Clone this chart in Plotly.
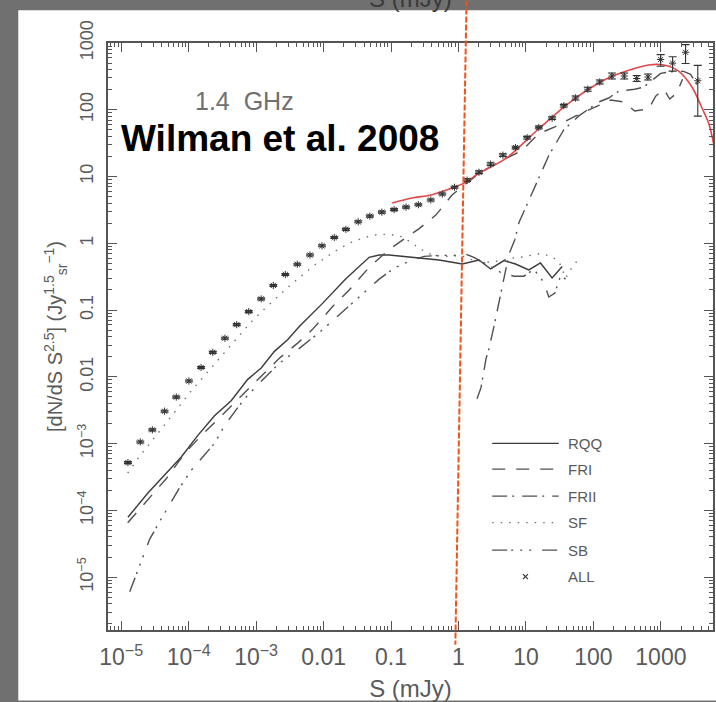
import plotly.graph_objects as go

# ---------------------------------------------------------------
# Euclidean-normalised 1.4 GHz source counts, S in mJy,
# N = dN/dS S^2.5 in Jy^1.5 sr^-1
# ---------------------------------------------------------------

# total counts (asterisks) with error bars
S_all = [1.26e-5, 1.92e-5, 2.90e-5, 4.40e-5, 6.56e-5, 1.01e-4, 1.53e-4, 2.28e-4,
         3.45e-4, 5.16e-4, 7.78e-4, 1.19e-3, 1.80e-3, 2.71e-3, 4.08e-3, 6.30e-3,
         9.46e-3, 1.44e-2, 2.14e-2, 3.26e-2, 4.85e-2, 7.31e-2, 0.111, 0.167,
         0.254, 0.388, 0.575, 0.873, 1.34, 2.01, 2.99, 4.55,
         7.01, 10.4, 15.5, 24.4, 36.4, 54.2, 82.4, 124,
         188, 286, 438, 643, 991, 1490, 2320, 3520]
N_all = [5.20e-4, 1.06e-3, 1.61e-3, 3.06e-3, 4.98e-3, 8.67e-3, 1.38e-2, 2.33e-2,
         3.79e-2, 6.05e-2, 9.50e-2, 0.147, 0.234, 0.341, 0.485, 0.667,
         0.918, 1.22, 1.62, 2.10, 2.55, 2.93, 3.20, 3.48,
         3.79, 4.46, 5.47, 6.90, 8.81, 11.6, 15.4, 20.9,
         27.2, 38.2, 54.3, 74.8, 115, 150, 203, 261,
         320, 320, 294, 309, 566, 499, 726, 272]
err_up_dex = [0.015] * 28 + [0.02] * 9 + [0.03] * 3 + [0.045] * 4 + [0.073, 0.095, 0.114, 0.230]
err_dn_dex = [0.015] * 28 + [0.02] * 9 + [0.03] * 3 + [0.045] * 4 + [0.100, 0.119, 0.168, 0.530]

# model fit through the total counts
S_fit = [0.104, 0.205, 0.405, 0.802, 1.29, 2.01, 5.04, 15.5, 47.8, 152, 301,
         658, 1100, 1830, 2840, 4000, 5080, 6030]
N_fit = [4.02, 4.77, 5.34, 6.71, 8.24, 11.2, 18.7, 52.0, 136, 286, 376,
         469, 469, 380, 225, 110, 63.7, 31.1]

# radio-quiet quasars
S_rqq = [1.26e-5, 1.77e-5, 2.49e-5, 4.40e-5, 7.78e-5, 1.37e-4, 2.42e-4, 4.27e-4,
         7.52e-4, 1.19e-3, 1.87e-3, 2.93e-3, 4.37e-3, 9.57e-3, 2.14e-2, 4.74e-2,
         6.67e-2, 9.38e-2, 0.233, 0.515, 1.14, 2.01, 2.99, 4.71, 7.01, 11.0,
         16.4, 24.4, 34.4]
N_rqq = [7.91e-5, 1.22e-4, 1.82e-4, 3.39e-4, 6.32e-4, 1.33e-3, 2.62e-3, 4.38e-3,
         9.18e-3, 1.36e-2, 2.41e-2, 3.59e-2, 5.66e-2, 0.125, 0.294, 0.617,
         0.667, 0.667, 0.617, 0.562, 0.490, 0.562, 0.413, 0.551, 0.490, 0.399,
         0.507, 0.304, 0.449]

# FRI radio galaxies
S_fri = [1.25e-5, 1.69e-5, 2.38e-5, 4.71e-5, 8.69e-5, 1.55e-4, 3.07e-4, 6.71e-4,
         1.20e-3, 2.21e-3, 4.08e-3, 6.81e-3, 1.35e-2, 2.40e-2, 4.74e-2, 9.38e-2,
         0.167, 0.261, 0.465, 0.802, 1.21, 2.23, 4.40, 8.69, 15.5, 26.8, 54.7,
         79.6, 120, 180, 281, 408, 658, 836, 1100, 1350, 1710, 2090]
N_fri = [6.53e-5, 9.18e-5, 1.36e-4, 3.03e-4, 7.11e-4, 1.33e-3, 2.62e-3, 5.75e-3,
         1.03e-2, 1.90e-2, 3.17e-2, 5.10e-2, 0.112, 0.200, 0.438, 0.809,
         1.22, 1.66, 2.67, 5.28, 7.43, 12.0, 17.4, 24.5, 43.8, 55.6, 80.9,
         95.9, 114, 140, 131, 95.9, 103, 160, 203, 145, 177, 286]

# FRII radio galaxies
S_frii = [1.88, 2.15, 2.55, 2.83, 3.35, 3.97, 4.40, 5.59, 6.85, 7.85, 10.3, 14.0,
          21.8, 36.4, 60.7, 120, 168, 237, 408, 555, 753, 990, 1540, 2170, 2750, 3610]
N_frii = [4.69e-3, 6.83e-3, 1.84e-2, 2.67e-2, 5.66e-2, 0.133, 0.207, 0.682, 1.14,
          2.03, 3.76, 7.43, 20.7, 50.2, 80.9, 131, 150, 190, 203, 218, 276, 351,
          376, 376, 339, 218]

# star-forming galaxies
S_sf = [1.25e-5, 1.88e-5, 2.82e-5, 4.40e-5, 6.62e-5, 1.03e-4, 1.55e-4, 2.42e-4,
        3.64e-4, 5.66e-4, 8.51e-4, 1.33e-3, 2.07e-3, 3.11e-3, 4.84e-3, 7.28e-3,
        1.14e-2, 1.71e-2, 2.57e-2, 4.00e-2, 6.22e-2, 9.38e-2, 0.141, 0.198,
        0.279, 0.392, 0.551, 0.774, 1.09, 1.53, 2.15, 3.03, 4.26, 5.98, 8.41,
        11.8, 16.6, 23.3, 30.7, 38.9, 46.1, 56.6]
N_sf = [3.63e-4, 6.49e-4, 1.08e-3, 1.87e-3, 3.22e-3, 5.75e-3, 9.27e-3, 1.55e-2,
        2.49e-2, 4.16e-2, 6.71e-2, 0.104, 0.157, 0.229, 0.333, 0.469,
        0.637, 0.838, 1.03, 1.22, 1.35, 1.37, 1.26, 1.03, 0.809, 0.682,
        0.637, 0.637, 0.659, 0.575, 0.537, 0.520, 0.556, 0.596, 0.617, 0.659,
        0.706, 0.637, 0.537, 0.301, 0.409, 0.537]

# starburst galaxies
S_sb = [1.34e-5, 1.88e-5, 2.64e-5, 3.72e-5, 5.21e-5, 7.33e-5, 1.10e-4, 1.72e-4,
        2.42e-4, 3.40e-4, 4.78e-4, 6.71e-4, 1.20e-3, 2.21e-3, 4.37e-3, 8.63e-3,
        1.71e-2, 3.37e-2, 6.67e-2, 0.111, 0.185, 0.309, 0.515, 0.867, 1.21, 1.69,
        2.83, 4.40, 6.61, 9.31, 13.1, 18.3, 21.8, 26.8, 32.8, 40.3]
N_sb = [6.05e-6, 1.47e-5, 3.69e-5, 6.82e-5, 1.22e-4, 2.18e-4, 4.02e-4, 6.71e-4,
        1.01e-3, 1.87e-3, 2.91e-3, 4.69e-3, 8.67e-3, 1.60e-2, 2.67e-2, 4.61e-2,
        8.51e-2, 0.157, 0.291, 0.424, 0.537, 0.637, 0.659, 0.659, 0.706, 0.617,
        0.469, 0.357, 0.322, 0.322, 0.409, 0.262, 0.157, 0.180, 0.333, 0.281]

# legend rows: label, dash pattern, colour
legend_rows = [("RQQ", "solid", "#3a3a3a"),
               ("FRI", "13px,11px", "#505050"),
               ("FRII", "15px,5px,2px,8px", "#505050"),
               ("SF", "1.5px,7px", "#707070"),
               ("SB", "15px,4px,2px,7px,2px,7px,2px,11px", "#505050")]

x_tickvals = [1e-5, 1e-4, 1e-3, 1e-2, 0.1, 1, 10, 100, 1000]
x_ticktext = ["10<sup>\u22125</sup>", "10<sup>\u22124</sup>", "10<sup>\u22123</sup>",
              "0.01", "0.1", "1", "10", "100", "1000"]
y_tickvals = [1e-5, 1e-4, 1e-3, 1e-2, 0.1, 1, 10, 100, 1000]
y_ticktext = ["10<sup>\u22125</sup>", "10<sup>\u22124</sup>", "10<sup>\u22123</sup>",
              "0.01", "0.1", "1", "10", "100", "1000"]
minor_vals = [m * 10.0 ** d for d in range(-7, 5) for m in range(2, 10)]

NARROW = "Liberation Sans Narrow, Arial Narrow, sans-serif"
SANS = "Liberation Sans, Arial, sans-serif"
AXIS_GREY = "#555555"
TEXT_GREY = "#5a5a5a"

fig = go.Figure()

# components
fig.add_trace(go.Scatter(x=S_rqq, y=N_rqq, mode="lines",
                         line=dict(color="#3a3a3a", width=1.4, dash="solid")))
fig.add_trace(go.Scatter(x=S_fri, y=N_fri, mode="lines",
                         line=dict(color="#505050", width=1.4, dash="13px,11px")))
fig.add_trace(go.Scatter(x=S_frii, y=N_frii, mode="lines",
                         line=dict(color="#505050", width=1.4, dash="15px,5px,2px,8px")))
fig.add_trace(go.Scatter(x=S_sf, y=N_sf, mode="lines",
                         line=dict(color="#707070", width=1.4, dash="1.5px,7px")))
fig.add_trace(go.Scatter(x=S_sb, y=N_sb, mode="lines",
                         line=dict(color="#505050", width=1.4,
                                   dash="15px,4px,2px,7px,2px,7px,2px,11px")))

# model fit
fig.add_trace(go.Scatter(x=S_fit, y=N_fit, mode="lines", line_shape="spline",
                         line=dict(color="#e0484a", width=1.6)))

# total counts with error bars
err_plus = [n * (10 ** e - 1) for n, e in zip(N_all, err_up_dex)]
err_minus = [n * (1 - 10 ** -e) for n, e in zip(N_all, err_dn_dex)]
fig.add_trace(go.Scatter(
    x=S_all, y=N_all, mode="markers",
    marker=dict(symbol="asterisk-open", size=6, color="#333333",
                line=dict(color="#333333", width=1)),
    error_y=dict(type="data", symmetric=False, array=err_plus, arrayminus=err_minus,
                 color="#333333", thickness=1.1, width=4),
))

# legend drawn on an overlay axis spanning the plot area (0..1 in both directions)
leg_y = [0.318, 0.274, 0.228, 0.183, 0.136]
for (label, dash, col), yy in zip(legend_rows, leg_y):
    fig.add_trace(go.Scatter(x=[0.635, 0.745], y=[yy, yy], mode="lines",
                             xaxis="x2", yaxis="y2",
                             line=dict(color=col, width=1.4, dash=dash)))
    fig.add_annotation(x=0.757, y=yy, xref="paper", yref="paper", text=label,
                       showarrow=False, xanchor="left", yanchor="middle",
                       font=dict(family=NARROW, size=15, color=TEXT_GREY))
fig.add_trace(go.Scatter(x=[0.69], y=[0.091], mode="markers", xaxis="x2", yaxis="y2",
                         marker=dict(symbol="x-thin-open", size=5, color="#333333",
                                     line=dict(color="#333333", width=1.2))))
fig.add_annotation(x=0.757, y=0.091, xref="paper", yref="paper", text="ALL",
                   showarrow=False, xanchor="left", yanchor="middle",
                   font=dict(family=NARROW, size=15, color=TEXT_GREY))

# text labels inside the plot
fig.add_annotation(x=0.140, y=0.901, xref="paper", yref="paper",
                   text="1.4\u00a0\u00a0GHz", showarrow=False,
                   xanchor="left", yanchor="middle",
                   font=dict(family=SANS, size=25, color="#707070"))
fig.add_annotation(x=0.018, y=0.838, xref="paper", yref="paper",
                   text="<b>Wilman et al. 2008</b>", showarrow=False,
                   xanchor="left", yanchor="middle",
                   font=dict(family=SANS, size=37, color="#000000"))

# partial axis title of the panel above
fig.add_annotation(x=0.50, y=1.075, xref="paper", yref="paper", text="S (mJy)",
                   showarrow=False, xanchor="center", yanchor="middle",
                   font=dict(family=NARROW, size=24, color="#3a3a3a"))

axis_common = dict(
    type="log", showgrid=False, zeroline=False,
    showline=True, linecolor=AXIS_GREY, linewidth=1.5, mirror="ticks",
    ticks="inside", ticklen=9, tickwidth=1.2, tickcolor=AXIS_GREY,
    minor=dict(tickmode="array", tickvals=minor_vals, ticks="inside",
               ticklen=4, tickwidth=1, tickcolor=AXIS_GREY, showgrid=False),
)

fig.update_layout(
    width=716, height=702,
    margin=dict(l=108, r=1, t=43, b=65),
    paper_bgcolor="#707070",
    plot_bgcolor="#ffffff",
    showlegend=False,
    xaxis=dict(
        **axis_common, range=[-5.195, 3.772],
        tickmode="array", tickvals=x_tickvals, ticktext=x_ticktext,
        tickfont=dict(family=NARROW, size=23, color=TEXT_GREY),
        ticklabelstandoff=6,
        title=dict(text="S (mJy)", standoff=14,
                   font=dict(family=NARROW, size=24, color=TEXT_GREY)),
    ),
    yaxis=dict(
        **axis_common, range=[-5.791, 3.0],
        tickmode="array", tickvals=y_tickvals, ticktext=y_ticktext,
        tickangle=-90,
        tickfont=dict(family=NARROW, size=18, color=TEXT_GREY),
        ticklabelstandoff=6,
        title=dict(text="[dN/dS S<sup>2.5</sup>] (Jy<sup>1.5</sup><sub>sr</sub><sup>\u22121</sup>)",
                   standoff=6,
                   font=dict(family=NARROW, size=20, color=TEXT_GREY)),
    ),
    xaxis2=dict(overlaying="x", anchor="y2", range=[0, 1], visible=False, fixedrange=True),
    yaxis2=dict(overlaying="y", anchor="x2", range=[0, 1], visible=False, fixedrange=True),
    shapes=[
        # white sheet behind the chart
        dict(type="rect", xref="paper", yref="paper", layer="below",
             x0=-0.1483, x1=1.01, y0=-0.12, y1=1.0556,
             fillcolor="#ffffff", line=dict(width=0)),
        # 1 mJy marker line
        dict(type="line", xref="paper", yref="paper", layer="above",
             x0=0.5926, y0=1.0724, x1=0.5741, y1=-0.0253,
             line=dict(color="#f0531c", width=2, dash="6px,2px")),
    ],
)

fig.write_html("out.html")
